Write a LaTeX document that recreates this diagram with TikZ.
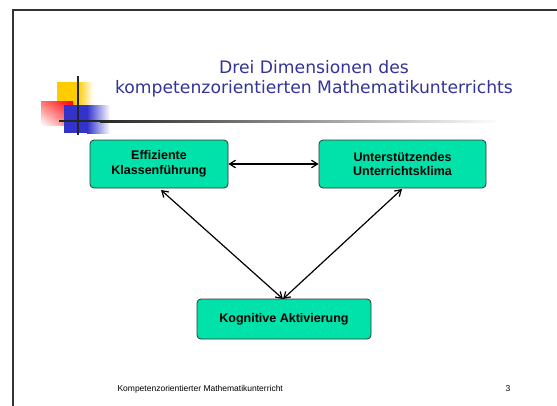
\documentclass[tikz,border=0pt]{standalone}
\usepackage{fontspec}
\usetikzlibrary{shadings,arrows.meta}
\setmainfont{Liberation Sans}
\newfontfamily\titlefont{DejaVu Sans}
\definecolor{boxgreen}{RGB}{0,226,170}
\definecolor{titleblue}{RGB}{51,51,153}
\definecolor{decoyellow}{RGB}{255,204,0}
\definecolor{decored}{RGB}{255,0,0}
\definecolor{decoblue}{RGB}{51,51,204}
\begin{document}
\begin{tikzpicture}[x=1pt,y=-1pt,
  dimbox/.style={draw=black!80,fill=boxgreen,rounded corners=4pt,line width=0.8pt,
    font=\fontsize{12.5}{14.5}\selectfont\bfseries,align=center,inner sep=0pt},
  biarrow/.style={<->,>={Straight Barb[length=6pt,width=7.5pt]},line width=1.2pt,black}]
\useasboundingbox (0,0) rectangle (557,405);
\fill[white] (0,0) rectangle (557,405);
% frame
\draw[line width=1.6pt,black!80] (13,410) -- (13,10) -- (562,10);
% decoration
\fill[decoyellow] (57,82) rectangle (78,105);
\shade[left color=decoyellow,right color=white] (78,82) rectangle (93,105);
\shade[upper right=decored,lower left=white,upper left=decored!55,lower right=decored!55] (41,101) rectangle (73,125);
\fill[decoblue] (64,105) rectangle (87,133);
\shade[left color=decoblue,right color=white] (87,105) rectangle (110,133);
\fill[black!85] (59,120) rectangle (100,122);
\shade[left color=black!85,right color=white] (100,120) rectangle (500,122);
\draw[line width=2pt,black!85] (78,76) -- (78,135);
% title
\node[font=\titlefont\fontsize{17.2}{20}\selectfont,text=titleblue] (t1) at (314,67) {Drei Dimensionen des};
\node[font=\titlefont\fontsize{17.2}{20}\selectfont,text=titleblue] (t2) at (314,89) {kompetenzorientierten Mathematikunterrichts};
% boxes
\node[dimbox,minimum width=138pt,minimum height=48pt] (a) at (159,164) {Effiziente\\Klassenführung};
\node[dimbox,minimum width=167pt,minimum height=48pt] (b) at (402.5,164) {Unterstützendes\\Unterrichtsklima};
\node[dimbox,minimum width=174pt,minimum height=40pt] (c) at (284,319) {Kognitive Aktivierung};
\coordinate (cl) at (161,190);
\coordinate (cr) at (402,189);
\coordinate (ct) at (283,299);
\draw[biarrow] (a.east) -- (b.west);
\draw[biarrow] (cl) -- (ct);
\draw[biarrow] (cr) -- (ct);
% footer
\node[font=\fontsize{8.5}{10}\selectfont,anchor=west] (f) at (114,389) {Kompetenzorientierter Mathematikunterricht};
\node[font=\fontsize{8.5}{10}\selectfont] (p) at (508,389) {3};
\end{tikzpicture}
\end{document}
